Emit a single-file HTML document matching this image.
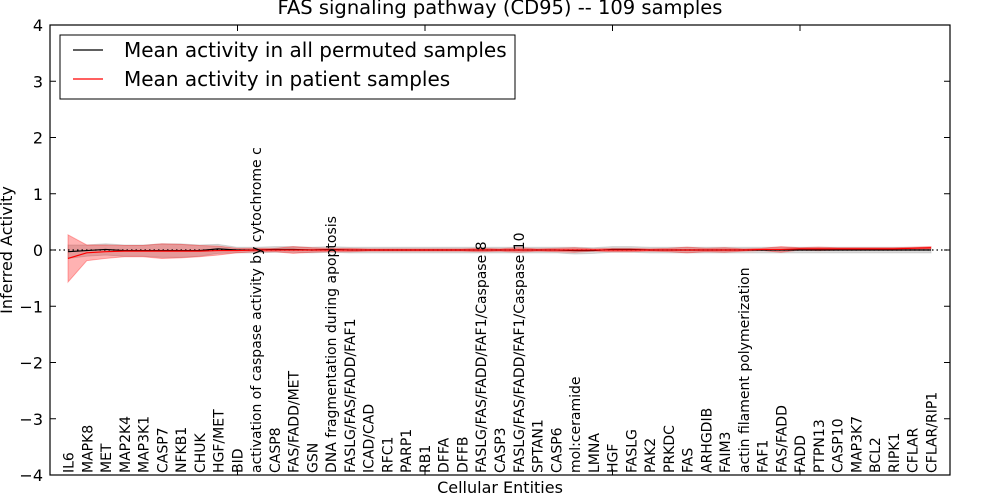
<!DOCTYPE html>
<html><head><meta charset="utf-8"><style>
body{margin:0;background:#fff;}
svg{display:block;font-family:"DejaVu Sans","Liberation Sans",sans-serif;}
</style></head><body>
<svg id="chart" width="1000" height="500">
<rect width="1000" height="500" fill="#fff"/>
<text x="500" y="14" font-size="19.5" text-anchor="middle">FAS signaling pathway (CD95) -- 109 samples</text>
<g id="plot"></g>
<rect x="50" y="25" width="900" height="450" fill="none" stroke="#000" stroke-width="1.2"/>
<text x="500" y="493" font-size="16" text-anchor="middle">Cellular Entities</text>
<text transform="translate(12,250) rotate(-90)" font-size="16" text-anchor="middle">Inferred Activity</text>
<g>
<rect x="60" y="35" width="455" height="64" fill="#fff" stroke="#000" stroke-width="1"/>
<line x1="73" y1="50" x2="103" y2="50" stroke="#000" stroke-width="1.2"/>
<text x="124" y="57" font-size="20">Mean activity in all permuted samples</text>
<line x1="73" y1="79" x2="103" y2="79" stroke="#f00" stroke-width="1.2"/>
<text x="124" y="86" font-size="20">Mean activity in patient samples</text>
</g>
</svg>
<script>
const categories=["IL6","MAPK8","MET","MAP2K4","MAP3K1","CASP7","NFKB1","CHUK","HGF/MET","BID","activation of caspase activity by cytochrome c","CASP8","FAS/FADD/MET","GSN","DNA fragmentation during apoptosis","FASLG/FAS/FADD/FAF1","ICAD/CAD","RFC1","PARP1","RB1","DFFA","DFFB","FASLG/FAS/FADD/FAF1/Caspase 8","CASP3","FASLG/FAS/FADD/FAF1/Caspase 10","SPTAN1","CASP6","mol:ceramide","LMNA","HGF","FASLG","PAK2","PRKDC","FAS","ARHGDIB","FAIM3","actin filament polymerization","FAF1","FAS/FADD","FADD","PTPN13","CASP10","MAP3K7","BCL2","RIPK1","CFLAR","CFLAR/RIP1"];
const patientMean=[-0.15,-0.05,-0.03,-0.02,-0.02,-0.02,-0.02,-0.02,-0.01,-0.01,0,0,0,0,0,0,0,0,0,0,0,0,0,0,0,0,0,0,0,0,0,0,0,0,0,0,0,0.01,0.01,0.02,0.02,0.02,0.02,0.02,0.02,0.03,0.04];
const patientSd=[0.42,0.14,0.12,0.1,0.1,0.13,0.12,0.1,0.08,0.04,0.03,0.03,0.06,0.04,0.03,0.03,0.02,0.02,0.02,0.02,0.02,0.02,0.03,0.02,0.04,0.02,0.03,0.04,0.02,0.03,0.03,0.02,0.03,0.05,0.03,0.04,0.02,0.02,0.05,0.02,0.03,0.02,0.02,0.02,0.02,0.02,0.02];
const permMean=[-0.03,-0.01,0.01,-0.01,-0.01,-0.01,-0.01,-0.01,0.02,0,0,0.01,0.01,0,0.01,0,0,0,0,0,0,0,0,0,0,0,0,-0.01,-0.01,0.01,0.01,0,0,0,0,0,0,0,0,0,0,0,0,0,0,0,0];
const permSd=[0.12,0.1,0.1,0.1,0.1,0.12,0.12,0.1,0.08,0.05,0.05,0.05,0.05,0.05,0.05,0.05,0.05,0.05,0.05,0.05,0.05,0.05,0.05,0.05,0.05,0.05,0.05,0.06,0.05,0.05,0.05,0.05,0.05,0.05,0.05,0.05,0.05,0.05,0.05,0.05,0.05,0.05,0.05,0.05,0.05,0.05,0.05];
const yTicks=[-4,-3,-2,-1,0,1,2,3,4];

const NS="http://www.w3.org/2000/svg";
const plot=document.getElementById('plot');
const xs=i=>68+i*(931-68)/(categories.length-1);
const ys=v=>250-v*56.25;
function mk(tag,attrs){const e=document.createElementNS(NS,tag);for(const k in attrs)e.setAttribute(k,attrs[k]);plot.appendChild(e);return e;}
function band(m,s,fill,op,name){
  let d='';m.forEach((v,i)=>{d+=(i?'L':'M')+xs(i)+','+ys(v+s[i]);});
  for(let i=m.length-1;i>=0;i--)d+='L'+xs(i)+','+ys(m[i]-s[i]);
  const p=mk('path',{d:d+'Z',fill:fill,'fill-opacity':op,stroke:fill,'stroke-opacity':op});
  
  
}
function line(m,col,name){
  const p=mk('polyline',{points:m.map((v,i)=>xs(i)+','+ys(v)).join(' '),fill:'none',stroke:col,'stroke-width':1.2});
  
  
}
band(permMean,permSd,'#999',0.35,'permuted-band');
band(patientMean,patientSd,'#f00',0.3,'patient-band');
const z=mk('line',{x1:50,x2:950,y1:250,y2:250,stroke:'#000','stroke-dasharray':'1.5,3','stroke-width':1.2});


line(permMean,'#000','permuted-mean-line');
line(patientMean,'#f00','patient-mean-line');
yTicks.forEach(t=>{
  const y=ys(t);
  const a=mk('line',{x1:50,x2:56,y1:y,y2:y,stroke:'#000'});
  
  
  const b=mk('line',{x1:944,x2:950,y1:y,y2:y,stroke:'#000'});
  
  
  const tx=mk('text',{x:43,y:y+6,'font-size':16,'text-anchor':'end'});
  tx.textContent=(t<0?'\u2212'+(-t):t);
  
  
});
for(let k=1;k<5;k++){
  const x=50+187.5*k;
  const a=mk('line',{x1:x,x2:x,y1:475,y2:469,stroke:'#000'});
  
  
  const b=mk('line',{x1:x,x2:x,y1:25,y2:31,stroke:'#000'});
  
  
}
categories.forEach((c,i)=>{
  const x=xs(i)+5.5;
  const t=mk('text',{transform:`translate(${x},473) rotate(-90)`,'font-size':14});
  t.textContent=c;
  
  
});
</script>
</body></html>
